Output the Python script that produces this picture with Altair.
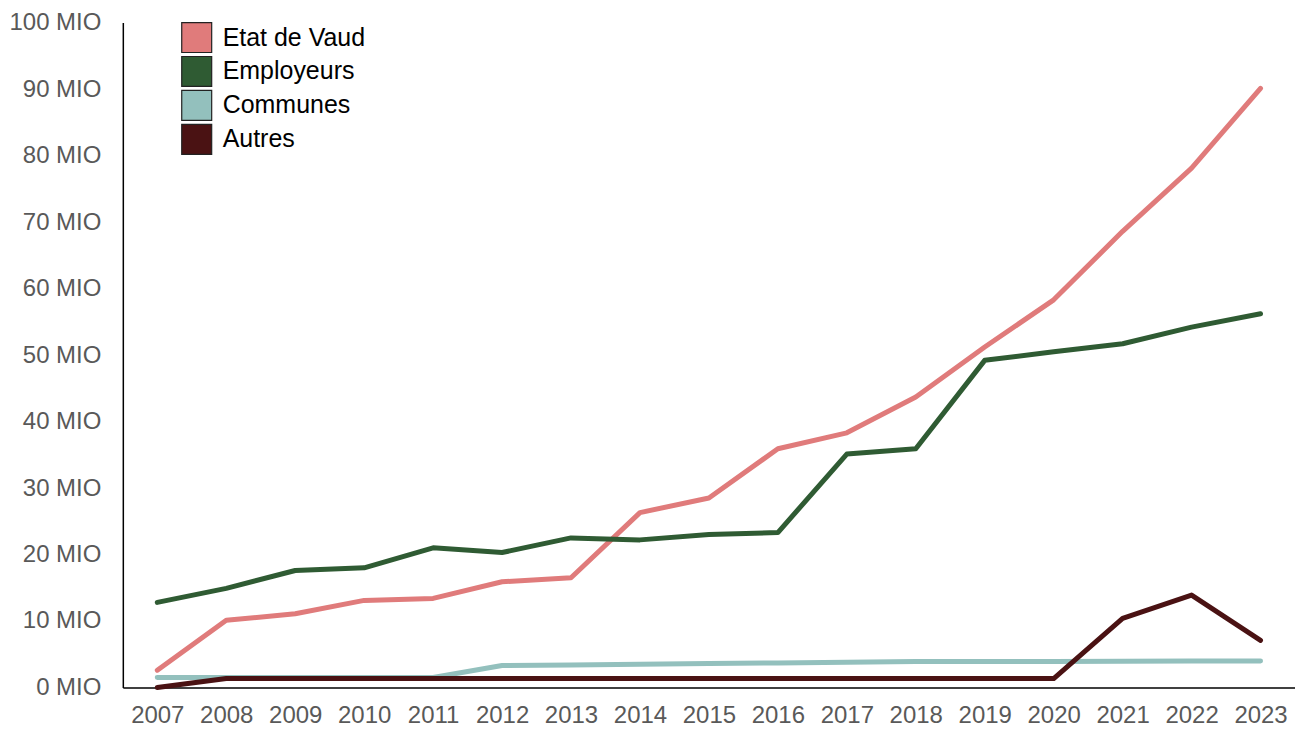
import altair as alt
import pandas as pd

years = [str(y) for y in range(2007, 2024)]
series = ["Etat de Vaud", "Employeurs", "Communes", "Autres"]
colors = ["#E07B7B", "#2F5B33", "#93C0BD", "#4A1213"]

etat = [2.6, 10.1, 11.1, 13.1, 13.4, 15.9, 16.5, 26.3, 28.5, 35.9, 38.3, 43.7, 51.2, 58.3, 68.6, 78.1, 90.1]
employeurs = [12.8, 14.9, 17.6, 18.0, 21.0, 20.3, 22.5, 22.2, 23.0, 23.3, 35.1, 35.9, 49.2, 50.5, 51.7, 54.2, 56.2]
communes = [1.5, 1.5, 1.5, 1.5, 1.5, 3.3, 3.4, 3.5, 3.6, 3.7, 3.8, 3.9, 3.9, 3.9, 3.95, 4.0, 4.0]
autres = [0.0, 1.35, 1.35, 1.35, 1.35, 1.35, 1.35, 1.35, 1.35, 1.35, 1.35, 1.35, 1.35, 1.35, 10.4, 13.9, 7.1]

rows = []
for name, vals in zip(series, [etat, employeurs, communes, autres]):
    for i, (y, v) in enumerate(zip(years, vals)):
        rows.append({"Année": y, "Série": name, "Valeur": v, "ordre": series.index(name)})
df = pd.DataFrame(rows)

FONT = "Liberation Sans"
LBL = 24

x = alt.X("Année:O", title=None,
          axis=alt.Axis(labelAngle=0, labelFontSize=LBL, labelColor="#595959", labelFont=FONT,
                        ticks=False, labelPadding=16, domainColor="#000000", domainWidth=1.5,
                        grid=False))
y = alt.Y("Valeur:Q", title=None,
          scale=alt.Scale(domain=[0, 100], nice=False),
          axis=alt.Axis(values=list(range(0, 101, 10)), labelExpr="datum.value + ' MIO'",
                        labelFontSize=LBL, labelColor="#595959", labelFont=FONT, grid=False,
                        ticks=False, labelPadding=22, domainColor="#000000", domainWidth=1.5))

lines = alt.Chart(df).mark_line(strokeWidth=5, strokeCap="round", strokeJoin="round").encode(
    x=x, y=y,
    color=alt.Color("Série:N", scale=alt.Scale(domain=series, range=colors), legend=None),
    order=alt.Order("ordre:Q"),
    detail="Série:N",
)

legend_layer = alt.Chart(df).mark_point(shape="square", filled=True, size=0, opacity=1).encode(
    x=x, y=y,
    color=alt.Color("Série:N", scale=alt.Scale(domain=series, range=colors),
                    legend=alt.Legend(title=None, orient="none", legendX=58, legendY=-1,
                                      symbolType="square", symbolSize=900, symbolOpacity=1,
                                      symbolStrokeColor="#222222", symbolStrokeWidth=1.2,
                                      labelFontSize=25, labelFont=FONT, labelColor="#000000",
                                      rowPadding=-2, labelOffset=10)),
)

chart = alt.layer(lines, legend_layer).resolve_legend(color="independent").properties(
    width=1174, height=666,
    background="white",
    autosize=alt.AutoSizeParams(type="none"),
    padding={"left": 115, "top": 14, "right": 0, "bottom": 41},
).configure_view(stroke=None, strokeWidth=0).configure_axis(grid=False)

chart.save("out.html", embed_options={"renderer": "svg", "actions": False})
